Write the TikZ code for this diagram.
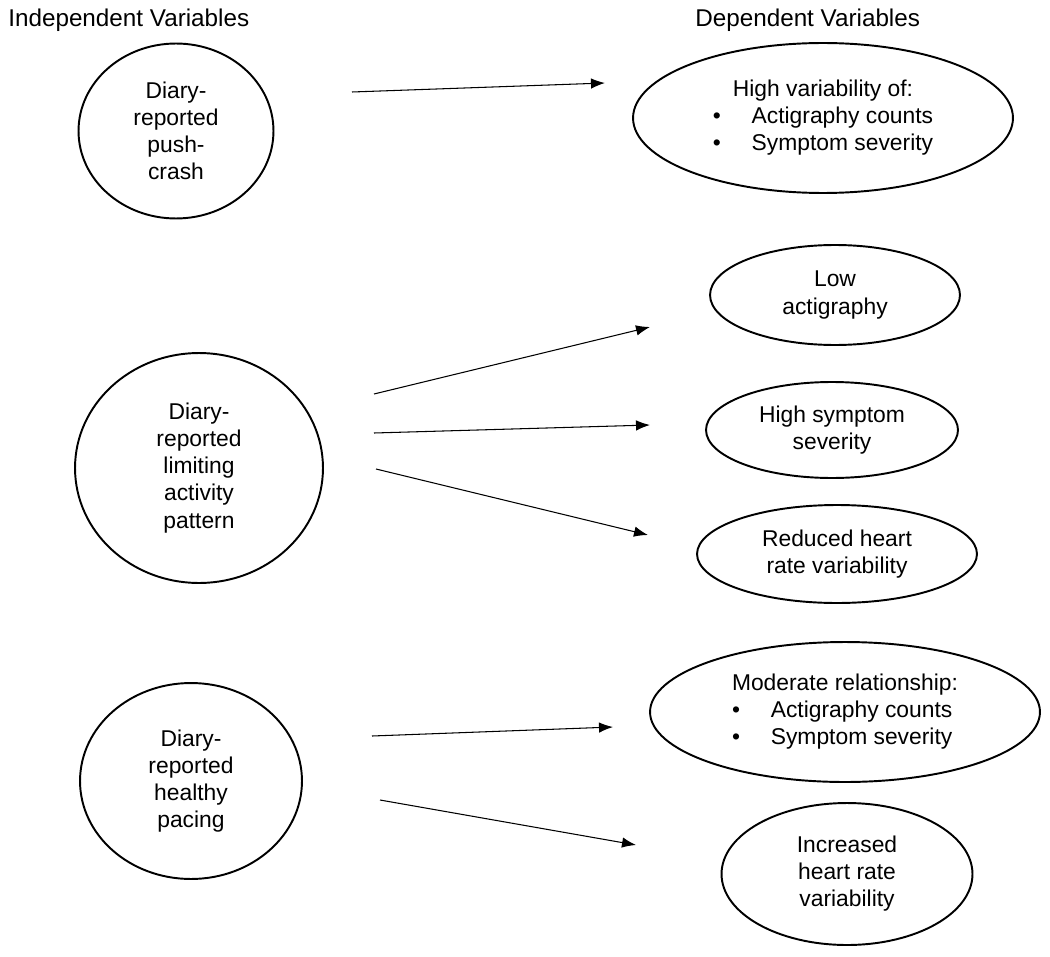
\documentclass[tikz,border=0pt]{standalone}
\usepackage{fontspec}
\setmainfont{Liberation Sans}
\usetikzlibrary{shapes.geometric,arrows.meta}

\begin{document}
\begin{tikzpicture}[%
    x=0.02cm, y=-0.02cm,
    >={Latex[length=2.8mm,width=2.1mm]},
    every node/.style={font=\fontsize{13}{15.4}\selectfont},
    oval/.style={ellipse, draw, line width=1.1pt, inner sep=0pt, align=center},
    head/.style={anchor=base west, inner sep=0pt, font=\fontsize{13.8}{15.4}\selectfont},
    link/.style={line width=0.6pt}
  ]
    \useasboundingbox (0,0) rectangle (1050,956);

    % headings
    \node[head] (indep) at (8,27) {Independent Variables};
    \node[head] (dep) at (695,27) {Dependent Variables};

    % independent variables
    \node[oval, minimum width=3.9cm, minimum height=3.5cm] (I1) at (176,131)
      {Diary-\\reported\\push-\\crash};
    \node[oval, minimum width=4.96cm, minimum height=4.6cm] (I2) at (199,468)
      {Diary-\\reported\\limiting\\activity\\pattern};
    \node[oval, minimum width=4.44cm, minimum height=3.92cm] (I3) at (191,781)
      {Diary-\\reported\\healthy\\pacing};

    % dependent variables
    \node[oval, minimum width=7.6cm, minimum height=3cm] (D1) at (823,118)
      {\begin{tabular}{@{}l@{\hspace{1.35em}}l@{}}
        \multicolumn{2}{@{}c@{}}{High variability of:}\\
        \textbullet & Actigraphy counts\\
        \textbullet & Symptom severity
      \end{tabular}};
    \node[oval, minimum width=5cm, minimum height=2cm] (D2) at (835,295)
      {Low\\actigraphy};
    \node[oval, minimum width=5.04cm, minimum height=1.92cm] (D3) at (832,430)
      {High symptom\\severity};
    \node[oval, minimum width=5.6cm, minimum height=1.96cm] (D4) at (837,554)
      {Reduced heart\\rate variability};
    \node[oval, minimum width=7.8cm, minimum height=2.8cm] (D5) at (845,712)
      {\begin{tabular}{@{}l@{\hspace{1.35em}}l@{}}
        \multicolumn{2}{@{}c@{}}{Moderate relationship:}\\
        \textbullet & Actigraphy counts\\
        \textbullet & Symptom severity
      \end{tabular}};
    \node[oval, minimum width=5.02cm, minimum height=2.84cm] (D6) at (847,874)
      {Increased\\heart rate\\variability};

    % arrow ends
    \coordinate (a1) at (352,92);  \coordinate (b1) at (605,83);
    \coordinate (a2) at (374,394); \coordinate (b2) at (650,327);
    \coordinate (a3) at (374,433); \coordinate (b3) at (650,425);
    \coordinate (a4) at (376,469); \coordinate (b4) at (648,535);
    \coordinate (a5) at (372,736); \coordinate (b5) at (613,727);
    \coordinate (a6) at (380,800); \coordinate (b6) at (636,845);

    \path[->, link] (a1) edge (b1)
                    (a2) edge (b2)
                    (a3) edge (b3)
                    (a4) edge (b4)
                    (a5) edge (b5)
                    (a6) edge (b6);
  \end{tikzpicture}
\end{document}
